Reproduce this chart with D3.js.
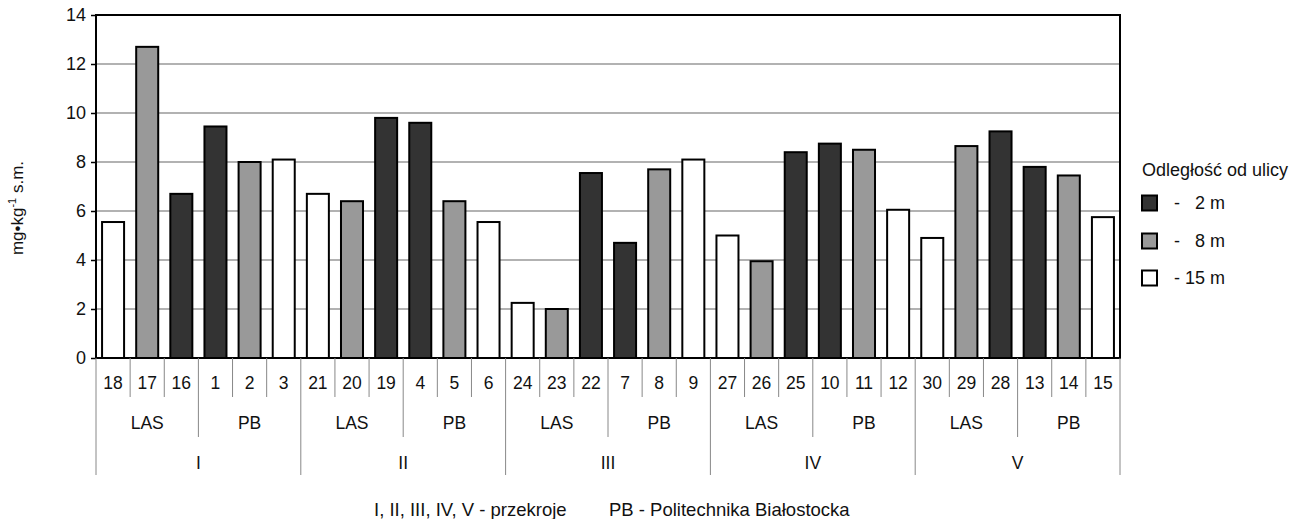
<!DOCTYPE html>
<html>
<head>
<meta charset="utf-8">
<script src="https://cdn.jsdelivr.net/npm/d3@7/dist/d3.min.js"></script>
<style>
  html, body { margin: 0; padding: 0; background: #fff; }
  svg { display: block; font-family: "Liberation Sans", Arial, sans-serif; }
</style>
</head>
<body>
<svg id="chart" width="1307" height="519"></svg>
<script>
// ---- data ----
const sampleIds = ["18","17","16","1","2","3","21","20","19","4","5","6","24","23","22","7","8","9","27","26","25","10","11","12","30","29","28","13","14","15"];
const values = [5.55,12.7,6.7,9.45,8.0,8.1, 6.7,6.4,9.8,9.6,6.4,5.55, 2.25,2.0,7.55,4.7,7.7,8.1, 5.0,3.95,8.4,8.75,8.5,6.05, 4.9,8.65,9.25,7.8,7.45,5.75];
const distances = ["15","8","2","2","8","15", "15","8","2","2","8","15", "15","8","2","2","8","15", "15","8","2","2","8","15", "15","8","2","2","8","15"];
const sites = ["LAS","PB","LAS","PB","LAS","PB","LAS","PB","LAS","PB"];
const sections = ["I","II","III","IV","V"];
const yTicks = [0,2,4,6,8,10,12,14];
const legendKeys = ["2","8","15"];
const legendLabels = ["-   2 m","-   8 m","- 15 m"];
const legendTitle = "Odległość od ulicy";
const footerLeft = "I, II, III, IV, V - przekroje";
const footerRight = "PB - Politechnika Białostocka";

// ---- layout ----
const svg = d3.select("#chart");
const L = 96, R = 1120, T = 15, B = 358;
const color = d3.scaleOrdinal().domain(["2","8","15"]).range(["#333333","#999999","#ffffff"]);

const idx = d3.range(values.length);
const x = d3.scaleBand().domain(idx).range([L, R]).paddingInner(0.355).paddingOuter(0.1775);
const y = d3.scaleLinear().domain([0, 14]).range([B, T]);
const step = x.step();
const bx = i => L + i * step; // boundary positions

// gridlines
svg.append("g").selectAll("line").data(yTicks.filter(t => t > 0 && t < 14)).join("line")
  .attr("x1", L).attr("x2", R).attr("y1", d => y(d)).attr("y2", d => y(d))
  .attr("stroke", "#999").attr("stroke-width", 1.5);

// bars
svg.append("g").selectAll("rect").data(idx).join("rect")
  .attr("x", i => x(i)).attr("width", x.bandwidth())
  .attr("y", i => y(values[i])).attr("height", i => y(0) - y(values[i]))
  .attr("fill", i => color(distances[i]))
  .attr("stroke", "#000").attr("stroke-width", 2);

// frame
svg.append("path")
  .attr("d", `M${L},${B}V${T}H${R}V${B}Z`)
  .attr("fill", "none").attr("stroke", "#000").attr("stroke-width", 2);

// y axis
const yAxis = d3.axisLeft(y).tickValues(yTicks).tickSize(5).tickPadding(5);
const gy = svg.append("g").attr("transform", `translate(${L},0)`).call(yAxis);
gy.select(".domain").remove();
gy.selectAll(".tick line").attr("stroke", "#000").attr("stroke-width", 1.5);
gy.selectAll("text").attr("font-size", 18).attr("fill", "#111").attr("font-family", "Liberation Sans, Arial, sans-serif");

// y title
svg.append("text")
  .attr("transform", "translate(23,208) rotate(-90)")
  .attr("text-anchor", "middle")
  .attr("font-size", 17).attr("fill", "#111")
  .call(t => {
    t.append("tspan").text("mg•kg");
    t.append("tspan").attr("dy", -7).attr("font-size", 11).text("-1");
    t.append("tspan").attr("dy", 7).text(" s.m.");
  });

// category separators
const sep = svg.append("g").attr("stroke", "#888").attr("stroke-width", 1);
d3.range(values.length + 1).forEach(i => {
  let y2 = 397;
  if (i % 6 === 0) y2 = 475; else if (i % 3 === 0) y2 = 437;
  sep.append("line").attr("x1", bx(i)).attr("x2", bx(i)).attr("y1", B).attr("y2", y2);
});

// category labels
svg.append("g").selectAll("text").data(idx).join("text")
  .attr("x", i => x(i) + x.bandwidth() / 2).attr("y", 383)
  .attr("dy", "0.35em").attr("text-anchor", "middle")
  .attr("font-size", 17.5).attr("fill", "#111")
  .text(i => sampleIds[i]);

svg.append("g").selectAll("text").data(sites).join("text")
  .attr("x", (d, j) => (bx(j * 3) + bx(j * 3 + 3)) / 2).attr("y", 423)
  .attr("dy", "0.35em").attr("text-anchor", "middle")
  .attr("font-size", 17.5).attr("fill", "#111")
  .text(d => d);

svg.append("g").selectAll("text").data(sections).join("text")
  .attr("x", (d, j) => (bx(j * 6) + bx(j * 6 + 6)) / 2).attr("y", 463)
  .attr("dy", "0.35em").attr("text-anchor", "middle")
  .attr("font-size", 17.5).attr("fill", "#111")
  .text(d => d);

// footer
svg.append("text").attr("x", 374).attr("y", 510).attr("dy", "0.35em")
  .attr("font-size", 18.5).attr("fill", "#111").text(footerLeft);
svg.append("text").attr("x", 609).attr("y", 510).attr("dy", "0.35em")
  .attr("font-size", 18.5).attr("fill", "#111").text(footerRight);

// legend
const lg = svg.append("g");
lg.append("text").attr("x", 1142).attr("y", 170).attr("dy", "0.35em")
  .attr("font-size", 18).attr("fill", "#111").text(legendTitle);
const ly = [203, 241, 278];
legendKeys.forEach((k, i) => {
  lg.append("rect").attr("x", 1142).attr("y", ly[i] - 7.5).attr("width", 15).attr("height", 15)
    .attr("fill", color(k)).attr("stroke", "#000").attr("stroke-width", 2);
  lg.append("text").attr("x", 1225).attr("y", ly[i]).attr("dy", "0.35em")
    .attr("text-anchor", "end").attr("font-size", 18).attr("fill", "#111")
    .attr("xml:space", "preserve").style("white-space", "pre")
    .text(legendLabels[i]);
});
</script>
</body>
</html>
